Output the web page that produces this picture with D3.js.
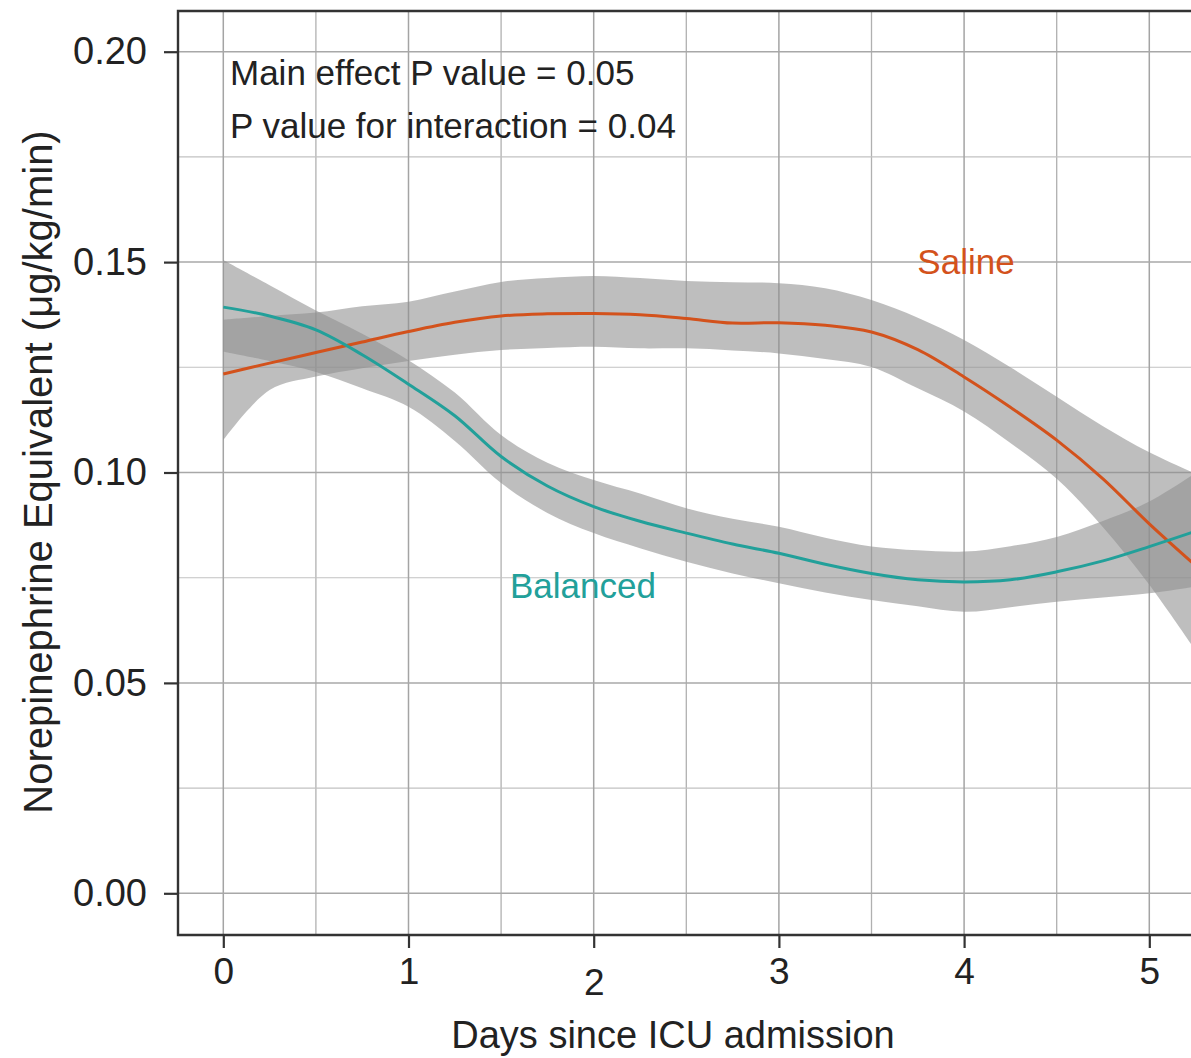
<!DOCTYPE html>
<html><head><meta charset="utf-8">
<script src="https://cdn.jsdelivr.net/npm/d3@7"></script>
<style>
html,body{margin:0;padding:0;background:#fff;}
svg{display:block;font-family:"Liberation Sans",Arial,Helvetica,sans-serif;}
</style></head>
<body>
<svg id="chart" width="1191" height="1058"></svg>
<script>
// ---- data ----
const days = [0, 0.25, 0.5, 0.75, 1, 1.25, 1.5, 1.75, 2, 2.25, 2.5, 2.75, 3, 3.25, 3.5, 3.75, 4, 4.25, 4.5, 4.75, 5, 5.26];

const salineMean  = [0.1234, 0.1260, 0.1285, 0.1310, 0.1335, 0.1357, 0.1372, 0.1377, 0.1378, 0.1375, 0.1366, 0.1355, 0.1356, 0.1350, 0.1334, 0.1292, 0.1227, 0.1155, 0.1077, 0.0985, 0.0878, 0.0775];
const salineUpper = [0.1363, 0.1372, 0.1380, 0.1395, 0.1406, 0.1430, 0.1453, 0.1462, 0.1467, 0.1462, 0.1455, 0.1452, 0.1450, 0.1438, 0.1410, 0.1368, 0.1315, 0.1250, 0.1180, 0.1110, 0.1048, 0.0995];
const salineLower = [0.1077, 0.1196, 0.1228, 0.1248, 0.1265, 0.1280, 0.1291, 0.1296, 0.1299, 0.1295, 0.1295, 0.1290, 0.1283, 0.1270, 0.1251, 0.1200, 0.1145, 0.1070, 0.0985, 0.0870, 0.0733, 0.0570];

const balancedMean  = [0.1393, 0.1372, 0.1339, 0.1280, 0.1210, 0.1135, 0.1038, 0.0968, 0.0919, 0.0884, 0.0856, 0.0830, 0.0808, 0.0782, 0.0760, 0.0745, 0.0740, 0.0745, 0.0764, 0.0790, 0.0824, 0.0862];
const balancedUpper = [0.1505, 0.1445, 0.1385, 0.1330, 0.1267, 0.1190, 0.1089, 0.1023, 0.0982, 0.0950, 0.0915, 0.0890, 0.0871, 0.0845, 0.0824, 0.0815, 0.0812, 0.0825, 0.0847, 0.0885, 0.0931, 0.1002];
const balancedLower = [0.1287, 0.1265, 0.1239, 0.1200, 0.1156, 0.1075, 0.0975, 0.0904, 0.0856, 0.0820, 0.0788, 0.0760, 0.0737, 0.0715, 0.0697, 0.0682, 0.0669, 0.0680, 0.0693, 0.0703, 0.0713, 0.0730];

const xTicks = [0, 1, 2, 3, 4, 5];
const xMinor = [0.5, 1.5, 2.5, 3.5, 4.5];
const yTicks = [0, 0.05, 0.10, 0.15, 0.20];
const yMinor = [0.025, 0.075, 0.125, 0.175];
const annotations = ["Main effect P value = 0.05", "P value for interaction = 0.04"];
const seriesNames = ["Saline", "Balanced"];

// ---- layout ----
const svg = d3.select("#chart");
const panel = {left: 178, top: 11, right: 1205, bottom: 935};
const x = d3.scaleLinear().domain([0, 5]).range([223.3, 1149.3]);
const y = d3.scaleLinear().domain([0, 0.2]).range([893.3, 51.7]);

const colSaline = "#d3521c", colBalanced = "#22a09a";

svg.append("rect").attr("x", panel.left).attr("y", panel.top)
  .attr("width", panel.right - panel.left).attr("height", panel.bottom - panel.top)
  .attr("fill", "#fff");

const grid = svg.append("g");
grid.selectAll("line.xmin").data(xMinor).join("line")
  .attr("x1", d => x(d)).attr("x2", d => x(d)).attr("y1", panel.top).attr("y2", panel.bottom)
  .attr("stroke", "#b0b0b0").attr("stroke-width", 1.3);
grid.selectAll("line.ymin").data(yMinor).join("line")
  .attr("y1", d => y(d)).attr("y2", d => y(d)).attr("x1", panel.left).attr("x2", panel.right)
  .attr("stroke", "#c2c2c2").attr("stroke-width", 1.1);
grid.selectAll("line.xmaj").data(xTicks).join("line")
  .attr("x1", d => x(d)).attr("x2", d => x(d)).attr("y1", panel.top).attr("y2", panel.bottom)
  .attr("stroke", "#a4a4a4").attr("stroke-width", 1.5);
grid.selectAll("line.ymaj").data(yTicks).join("line")
  .attr("y1", d => y(d)).attr("y2", d => y(d)).attr("x1", panel.left).attr("x2", panel.right)
  .attr("stroke", "#a8a8a8").attr("stroke-width", 1.5);

const curve = d3.curveCatmullRom.alpha(0.5);
function band(lower, upper) {
  return d3.area().curve(curve)
    .x((d, i) => x(days[i])).y0((d, i) => y(lower[i])).y1((d, i) => y(upper[i]))(days);
}
function line(vals) {
  return d3.line().curve(curve).x((d, i) => x(days[i])).y((d, i) => y(vals[i]))(days);
}
svg.append("path").attr("d", band(salineLower, salineUpper)).attr("fill", "#8f8f8f").attr("fill-opacity", 0.58);
svg.append("path").attr("d", band(balancedLower, balancedUpper)).attr("fill", "#8f8f8f").attr("fill-opacity", 0.58);

svg.append("path").attr("d", line(salineMean)).attr("fill", "none").attr("stroke", colSaline).attr("stroke-width", 3);
svg.append("path").attr("d", line(balancedMean)).attr("fill", "none").attr("stroke", colBalanced).attr("stroke-width", 3);

svg.append("path")
  .attr("d", `M${panel.right},${panel.top}H${panel.left}V${panel.bottom}H${panel.right}`)
  .attr("fill", "none").attr("stroke", "#333").attr("stroke-width", 2.4);

const yAxis = d3.axisLeft(y).tickValues(yTicks).tickFormat(d3.format(".2f")).tickSize(14).tickPadding(17);
const gy = svg.append("g").attr("transform", `translate(${panel.left},0)`).call(yAxis);
gy.select(".domain").remove();
gy.selectAll(".tick line").attr("stroke", "#333").attr("stroke-width", 2.2);
gy.selectAll(".tick text").attr("font-size", 38).attr("fill", "#222").attr("font-family", "Liberation Sans, Arial, sans-serif");

const xAxis = d3.axisBottom(x).tickValues(xTicks).tickFormat(d3.format("d")).tickSize(13).tickPadding(10);
const gx = svg.append("g").attr("transform", `translate(0,${panel.bottom})`).call(xAxis);
gx.select(".domain").remove();
gx.selectAll(".tick line").attr("stroke", "#333").attr("stroke-width", 2.2);
gx.selectAll(".tick text").attr("font-size", 37).attr("fill", "#222").attr("font-family", "Liberation Sans, Arial, sans-serif")
  .attr("dy", d => d === 2 ? "1.0em" : "0.71em");

svg.append("text").attr("x", 673).attr("y", 1048).attr("text-anchor", "middle")
  .attr("font-size", 38).attr("fill", "#222").text("Days since ICU admission");
svg.append("text").attr("transform", "translate(52,472) rotate(-90)").attr("text-anchor", "middle")
  .attr("font-size", 40).attr("fill", "#222").text("Norepinephrine Equivalent (\u03bcg/kg/min)");

svg.selectAll("text.ann").data(annotations).join("text")
  .attr("x", 230).attr("y", (d, i) => 85 + i * 53)
  .attr("font-size", 35).attr("fill", "#222").text(d => d);

svg.append("text").attr("x", 966).attr("y", 274).attr("text-anchor", "middle")
  .attr("font-size", 35).attr("fill", colSaline).text(seriesNames[0]);
svg.append("text").attr("x", 583).attr("y", 598).attr("text-anchor", "middle")
  .attr("font-size", 35).attr("fill", colBalanced).text(seriesNames[1]);
</script>
</body></html>
